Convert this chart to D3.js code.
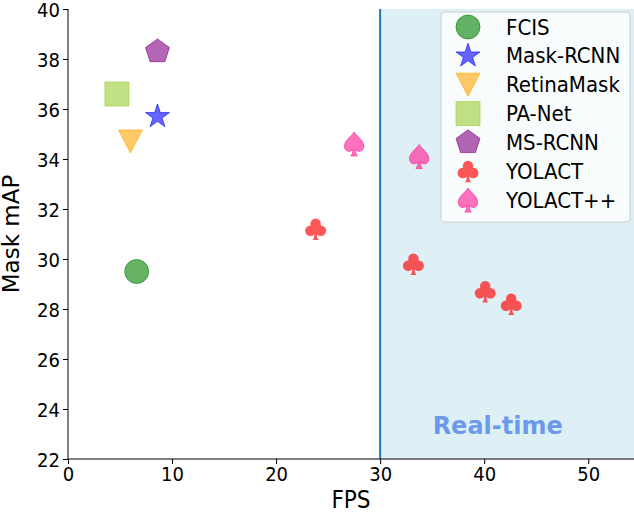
<!DOCTYPE html>
<html><head><meta charset="utf-8">
<script src="https://cdn.jsdelivr.net/npm/d3@7"></script>
<style>
html,body{margin:0;padding:0;background:#fff;}
svg{display:block;}
text{font-family:"DejaVu Sans Condensed","DejaVu Sans",sans-serif;font-stretch:condensed;}
</style></head><body>
<script>
// ---- data ----
const methods = ["FCIS","Mask-RCNN","RetinaMask","PA-Net","MS-RCNN","YOLACT","YOLACT++"];
const fpsValues = [[6.6],[8.6],[6.0],[4.7],[8.6],[23.8,33.2,40.1,42.6],[27.5,33.75]];
const mapValues = [[29.5],[35.7],[34.7],[36.6],[38.3],[31.2,29.8,28.7,28.2],[34.6,34.1]];
const colors = ["#008000","#0000ff","#ffa500","#9acd32","#800080","#ff0000","#ff1493"];
const shapes = ["circle","star","triangleDown","square","pentagon","club","spade"];
const xTicks = [0,10,20,30,40,50];
const yTicks = [22,24,26,28,30,32,34,36,38,40];
const realTimeFps = 30;
const realTimeLabel = "Real-time";
const realTimeLabelPos = [41.3, 23.0];

const W = 634, H = 512;
const svg = d3.select("body").append("svg").attr("width", W).attr("height", H);
const x = d3.scaleLinear().domain([0, 54.4]).range([68, 634]);
const y = d3.scaleLinear().domain([22, 40]).range([459, 9]);

// shaded real-time region
svg.append("rect")
  .attr("x", x(realTimeFps)).attr("y", y(40))
  .attr("width", x(54.4) - x(realTimeFps)).attr("height", y(22) - y(40))
  .attr("fill", "#add8e6").attr("fill-opacity", 0.4);
svg.append("line")
  .attr("x1", x(realTimeFps)).attr("x2", x(realTimeFps))
  .attr("y1", y(40)).attr("y2", y(22))
  .attr("stroke", "#1f77b4").attr("stroke-width", 2);

svg.append("text")
  .attr("x", x(realTimeLabelPos[0])).attr("y", y(realTimeLabelPos[1]))
  .attr("text-anchor", "middle")
  .attr("font-weight", "bold").attr("font-size", 24)
  .style("font-family", '"DejaVu Sans",sans-serif').style("font-stretch", "normal")
  .attr("fill", "#6495ed").attr("fill-opacity", 0.95)
  .text(realTimeLabel);

// marker path generator (unit sizes in px)
function shapePath(shape) {
  const p = d3.path();
  if (shape === "circle") {
    p.arc(0, 0, 12, 0, 2 * Math.PI); p.closePath();
  } else if (shape === "star") {
    const R = 12.6, r = R * 0.381966;
    for (let i = 0; i < 10; i++) {
      const a = -Math.PI / 2 + i * Math.PI / 5;
      const rr = i % 2 === 0 ? R : r;
      const px = rr * Math.cos(a), py = rr * Math.sin(a);
      if (i === 0) p.moveTo(px, py); else p.lineTo(px, py);
    }
    p.closePath();
  } else if (shape === "pentagon") {
    const R = 12.6;
    for (let i = 0; i < 5; i++) {
      const a = -Math.PI / 2 + i * 2 * Math.PI / 5;
      const px = R * Math.cos(a), py = R * Math.sin(a);
      if (i === 0) p.moveTo(px, py); else p.lineTo(px, py);
    }
    p.closePath();
  } else if (shape === "triangleDown") {
    p.moveTo(-12, -11.5); p.lineTo(12, -11.5); p.lineTo(0, 11.5); p.closePath();
  } else if (shape === "square") {
    p.rect(-12, -12, 24, 24);
  }
  return p.toString();
}
function clubPath() {
  const s = 21;
  const r = 0.25 * s;
  const parts = [];
  const circ = (cx, cy) => `M${cx + r},${cy}A${r},${r} 0 1,1 ${cx - r},${cy}A${r},${r} 0 1,1 ${cx + r},${cy}Z`;
  parts.push(circ(0, -0.5 * s + r));
  parts.push(circ(-0.5 * s + r, 0.08 * s));
  parts.push(circ(0.5 * s - r, 0.08 * s));
  parts.push(`M${-0.12*s},${-0.05*s}L${0.12*s},${-0.05*s}L${0.12*s},${0.1*s}L${-0.12*s},${0.1*s}Z`);
  // stem
  parts.push(`M${-0.05*s},${-0.05*s}L${0.05*s},${-0.05*s}L${0.07*s},${0.38*s}Q${0.1*s},${0.5*s} ${0.16*s},${0.52*s}L${-0.16*s},${0.52*s}Q${-0.1*s},${0.5*s} ${-0.07*s},${0.38*s}Z`);
  return parts.join("");
}
function spadePath() {
  const w = 20, h = 24;
  const P = (a, b) => `${a * w},${b * h}`;
  return `M${P(0,-0.5)}C${P(0.18,-0.28)} ${P(0.52,-0.12)} ${P(0.48,0.13)}` +
    `C${P(0.45,0.33)} ${P(0.18,0.36)} ${P(0.06,0.22)}` +
    `Q${P(0.06,0.42)} ${P(0.16,0.5)}L${P(-0.16,0.5)}Q${P(-0.06,0.42)} ${P(-0.06,0.22)}` +
    `C${P(-0.18,0.36)} ${P(-0.45,0.33)} ${P(-0.48,0.13)}` +
    `C${P(-0.52,-0.12)} ${P(-0.18,-0.28)} ${P(0,-0.5)}Z`;
}
function markerD(shape) {
  if (shape === "club") return clubPath();
  if (shape === "spade") return spadePath();
  return shapePath(shape);
}
function styleMarker(sel, idx) {
  sel.attr("fill", d => colors[idx(d)])
    .attr("fill-opacity", d => shapes[idx(d)] === "club" ? 0.66 : 0.6)
    .attr("stroke", d => colors[idx(d)]).attr("stroke-opacity", 0.6)
    .attr("stroke-width", d => shapes[idx(d)] === "club" ? 0 : 1);
}

// points
const pts = [];
methods.forEach((m, i) => fpsValues[i].forEach((f, j) => pts.push({m, i, f, v: mapValues[i][j]})));
svg.append("g").selectAll("path").data(pts).join("path")
  .attr("d", d => markerD(shapes[d.i]))
  .attr("transform", d => `translate(${x(d.f)},${y(d.v)})`)
  .call(styleMarker, d => d.i);

// axes
const gx = svg.append("g").attr("transform", `translate(0,${y(22)})`)
  .call(d3.axisBottom(x).tickValues(xTicks).tickSize(5).tickPadding(3).tickFormat(d3.format("d")));
const gy = svg.append("g").attr("transform", `translate(${x(0)},0)`)
  .call(d3.axisLeft(y).tickValues(yTicks).tickSize(5).tickPadding(3).tickFormat(d3.format("d")));
[gx, gy].forEach(g => {
  g.selectAll("text").attr("font-size", 20).attr("fill", "#000")
    .style("font-family", '"DejaVu Sans Condensed","DejaVu Sans",sans-serif');
  g.selectAll("line").attr("stroke", "#000");
  g.select(".domain").attr("stroke", "#000");
});
gx.select(".domain").attr("d", `M${x(0)},0H${W}`);
gy.select(".domain").attr("d", `M0,${y(22)}V${y(40)}`);
gy.selectAll(".tick text").attr("dy", "0.36em");

svg.append("text").attr("x", (x(0) + W) / 2).attr("y", 508)
  .attr("text-anchor", "middle").attr("font-size", 24).text("FPS");
svg.append("text").attr("transform", `translate(19,${(y(22) + y(40)) / 2}) rotate(-90)`)
  .attr("text-anchor", "middle").attr("font-size", 23)
  .style("font-family", '"DejaVu Sans",sans-serif').style("font-stretch", "normal")
  .text("Mask mAP");

// legend
const leg = svg.append("g");
leg.append("rect").attr("x", 441).attr("y", 12).attr("width", 189).attr("height", 210)
  .attr("rx", 3).attr("fill", "#fff").attr("fill-opacity", 0.8)
  .attr("stroke", "#cccccc").attr("stroke-width", 1);
const items = leg.selectAll("g.item").data(methods).join("g")
  .attr("transform", (d, i) => `translate(468,${27 + i * 28.85})`);
items.append("path").attr("d", (d, i) => markerD(shapes[i]))
  .call(styleMarker, d => methods.indexOf(d));
items.append("text").attr("x", 38).attr("dominant-baseline", "central")
  .attr("font-size", 22).attr("fill", "#000").text(d => d);
</script>
</body></html>
